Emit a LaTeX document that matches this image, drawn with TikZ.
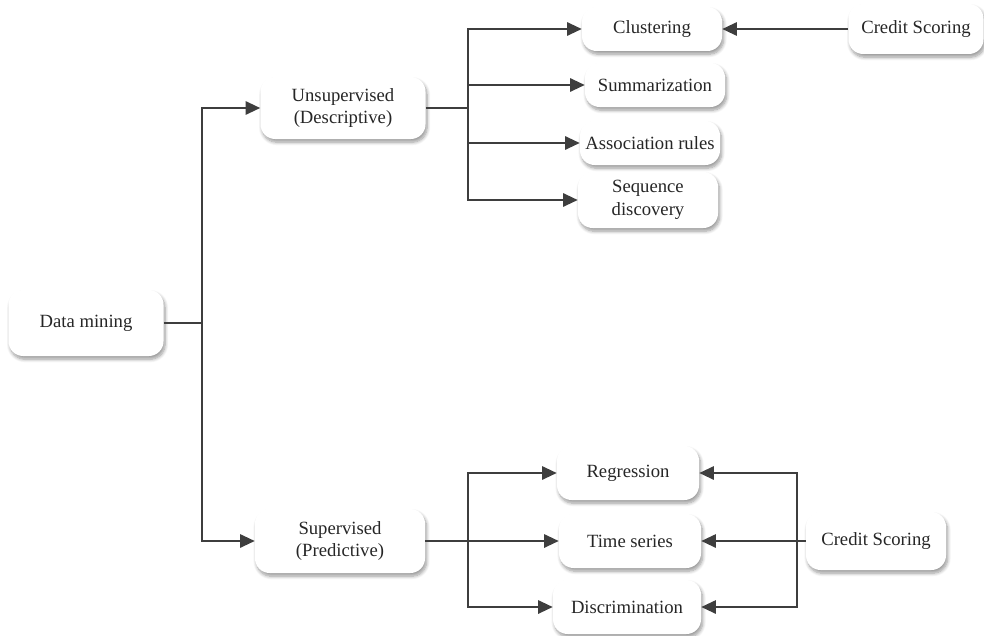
\documentclass[tikz,border=0pt]{standalone}
\usepackage{fontspec}
\setmainfont{Liberation Serif}
\usetikzlibrary{arrows.meta,shadows.blur}

\definecolor{linegray}{HTML}{3E3E3E}
\definecolor{textgray}{HTML}{262626}

\tikzset{
  box/.style={fill=white, draw=none, rounded corners=11pt, align=center,
    font=\fontsize{14}{17}\selectfont, text=textgray, inner sep=2pt,
    blur shadow={shadow xshift=1.2pt, shadow yshift=-2.4pt,
      shadow blur steps=8, shadow blur radius=2.5pt, shadow opacity=40}},
  conn/.style={draw=linegray, line width=1.5pt},
  arr/.style={conn, -{Triangle[length=11pt,width=10pt]}},
}

\begin{document}
\begin{tikzpicture}[x=0.75pt, y=-0.75pt]
  \useasboundingbox (0,0) rectangle (984,635);

  % root
  \node[box, minimum width=155*0.75pt, minimum height=66*0.75pt] (dm) at (86,323) {Data mining};

  % two main branches
  \node[box, minimum width=165*0.75pt, minimum height=62*0.75pt] (unsup) at (343,108) {Unsupervised\\(Descriptive)};
  \node[box, minimum width=170*0.75pt, minimum height=64*0.75pt] (sup) at (340,541) {Supervised\\(Predictive)};

  % descriptive tasks
  \node[box, minimum width=140*0.75pt, minimum height=44*0.75pt] (clus) at (652,29) {Clustering};
  \node[box, minimum width=140*0.75pt, minimum height=44*0.75pt] (summ) at (655,85) {Summarization};
  \node[box, minimum width=140*0.75pt, minimum height=44*0.75pt] (assoc) at (650,143) {Association rules};
  \node[box, minimum width=140*0.75pt, minimum height=56*0.75pt] (seq) at (648,200) {Sequence\\discovery};

  % predictive tasks
  \node[box, minimum width=142*0.75pt, minimum height=54*0.75pt] (reg) at (628,473) {Regression};
  \node[box, minimum width=142*0.75pt, minimum height=54*0.75pt] (ts) at (630,541) {Time series};
  \node[box, minimum width=148*0.75pt, minimum height=54*0.75pt] (disc) at (627,607) {Discrimination};

  % applications
  \node[box, minimum width=135*0.75pt, minimum height=50*0.75pt] (cs1) at (916,29) {Credit Scoring};
  \node[box, minimum width=140*0.75pt, minimum height=58*0.75pt] (cs2) at (876,541) {Credit Scoring};

  % junction points
  \coordinate (rootj) at (202,323);
  \coordinate (uj) at (468,108);
  \coordinate (sj) at (468,541);
  \coordinate (cj) at (797,541);

  % root to branches
  \draw[conn] (dm.east) -- (rootj);
  \draw[arr] (rootj) |- (unsup.west);
  \draw[arr] (rootj) |- (sup.west);

  % descriptive fan-out
  \draw[conn, line width=2pt] (unsup.east) -- (uj);
  \draw[arr] (uj) |- (clus.west);
  \draw[arr] (uj) |- (summ.west);
  \draw[arr] (uj) |- (assoc.west);
  \draw[arr] (uj) |- (seq.west);

  % predictive fan-out
  \draw[arr] (sup.east) -- (ts.west);
  \draw[arr] (sj) |- (reg.west);
  \draw[arr] (sj) |- (disc.west);

  % credit scoring links
  \draw[arr] (cs1.west) -- (clus.east);
  \draw[conn] (cs2.west) -- (cj);
  \draw[arr] (cj) |- (reg.east);
  \draw[arr] (cj) -- (ts.east);
  \draw[arr] (cj) |- (disc.east);
\end{tikzpicture}
\end{document}
